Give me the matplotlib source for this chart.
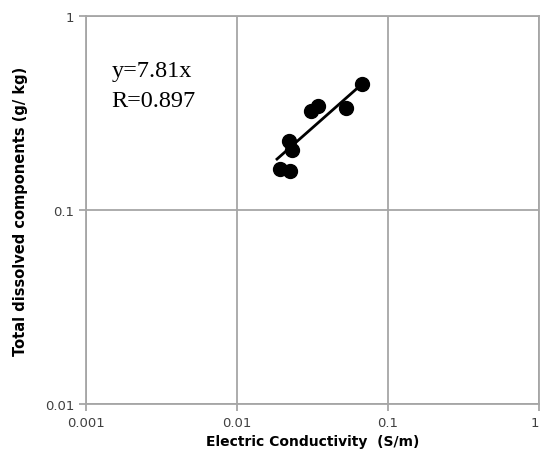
import matplotlib
matplotlib.use('Agg')
import matplotlib.pyplot as plt
from matplotlib.ticker import FixedLocator, FixedFormatter, NullLocator

# ── Data ─────────────────────────────────────────────────────
ec = [0.0193, 0.0224, 0.0221, 0.0231, 0.0309, 0.0344, 0.0527, 0.0673]
tdc = [0.163, 0.159, 0.227, 0.204, 0.324, 0.344, 0.336, 0.446]
fit_x = [0.0184, 0.0673]
fit_y = [0.183, 0.446]
x_ticks = [0.001, 0.01, 0.1, 1]
x_labels = ['0.001', '0.01', '0.1', '1']
y_ticks = [0.01, 0.1, 1]
y_labels = ['0.01', '0.1', '1']

fig = plt.figure(figsize=(5.41, 4.60), dpi=100)
ax = fig.add_axes([0.159, 0.1196, 0.8373, 0.8435])
ax.set_xscale('log')
ax.set_yscale('log')
ax.set_xlim(0.001, 1)
ax.set_ylim(0.01, 1)

grey = '#a6a6a6'
ax.grid(True, which='major', color=grey, linewidth=1.3)
ax.set_axisbelow(True)
for s in ax.spines.values():
    s.set_color(grey)
    s.set_linewidth(1.3)

ax.xaxis.set_major_locator(FixedLocator(x_ticks))
ax.xaxis.set_major_formatter(FixedFormatter(x_labels))
ax.yaxis.set_major_locator(FixedLocator(y_ticks))
ax.yaxis.set_major_formatter(FixedFormatter(y_labels))
ax.xaxis.set_minor_locator(NullLocator())
ax.yaxis.set_minor_locator(NullLocator())
ax.tick_params(colors=grey, labelcolor='#404040', labelsize=9.5,
               length=5, width=1.3, direction='out')
# keep the last x label inside the figure
ax.get_xticklabels()[-1].set_horizontalalignment('right')

ax.plot(fit_x, fit_y, color='black', linewidth=2, zorder=3)
ax.plot(ec, tdc, 'o', color='black', markersize=10, zorder=4)

ax.text(0.00148, 0.49, 'y=7.81x', family='Liberation Serif', fontsize=17.5)
ax.text(0.00148, 0.343, 'R=0.897', family='Liberation Serif', fontsize=17.5)

ax.set_xlabel('Electric Conductivity  (S/m)', fontsize=10,
              fontweight='bold', labelpad=4)
ax.set_ylabel('Total dissolved components (g/ kg)', fontsize=10.5,
              fontweight='bold', labelpad=12)

fig.savefig('out.png', dpi=100)
plt.close(fig)
